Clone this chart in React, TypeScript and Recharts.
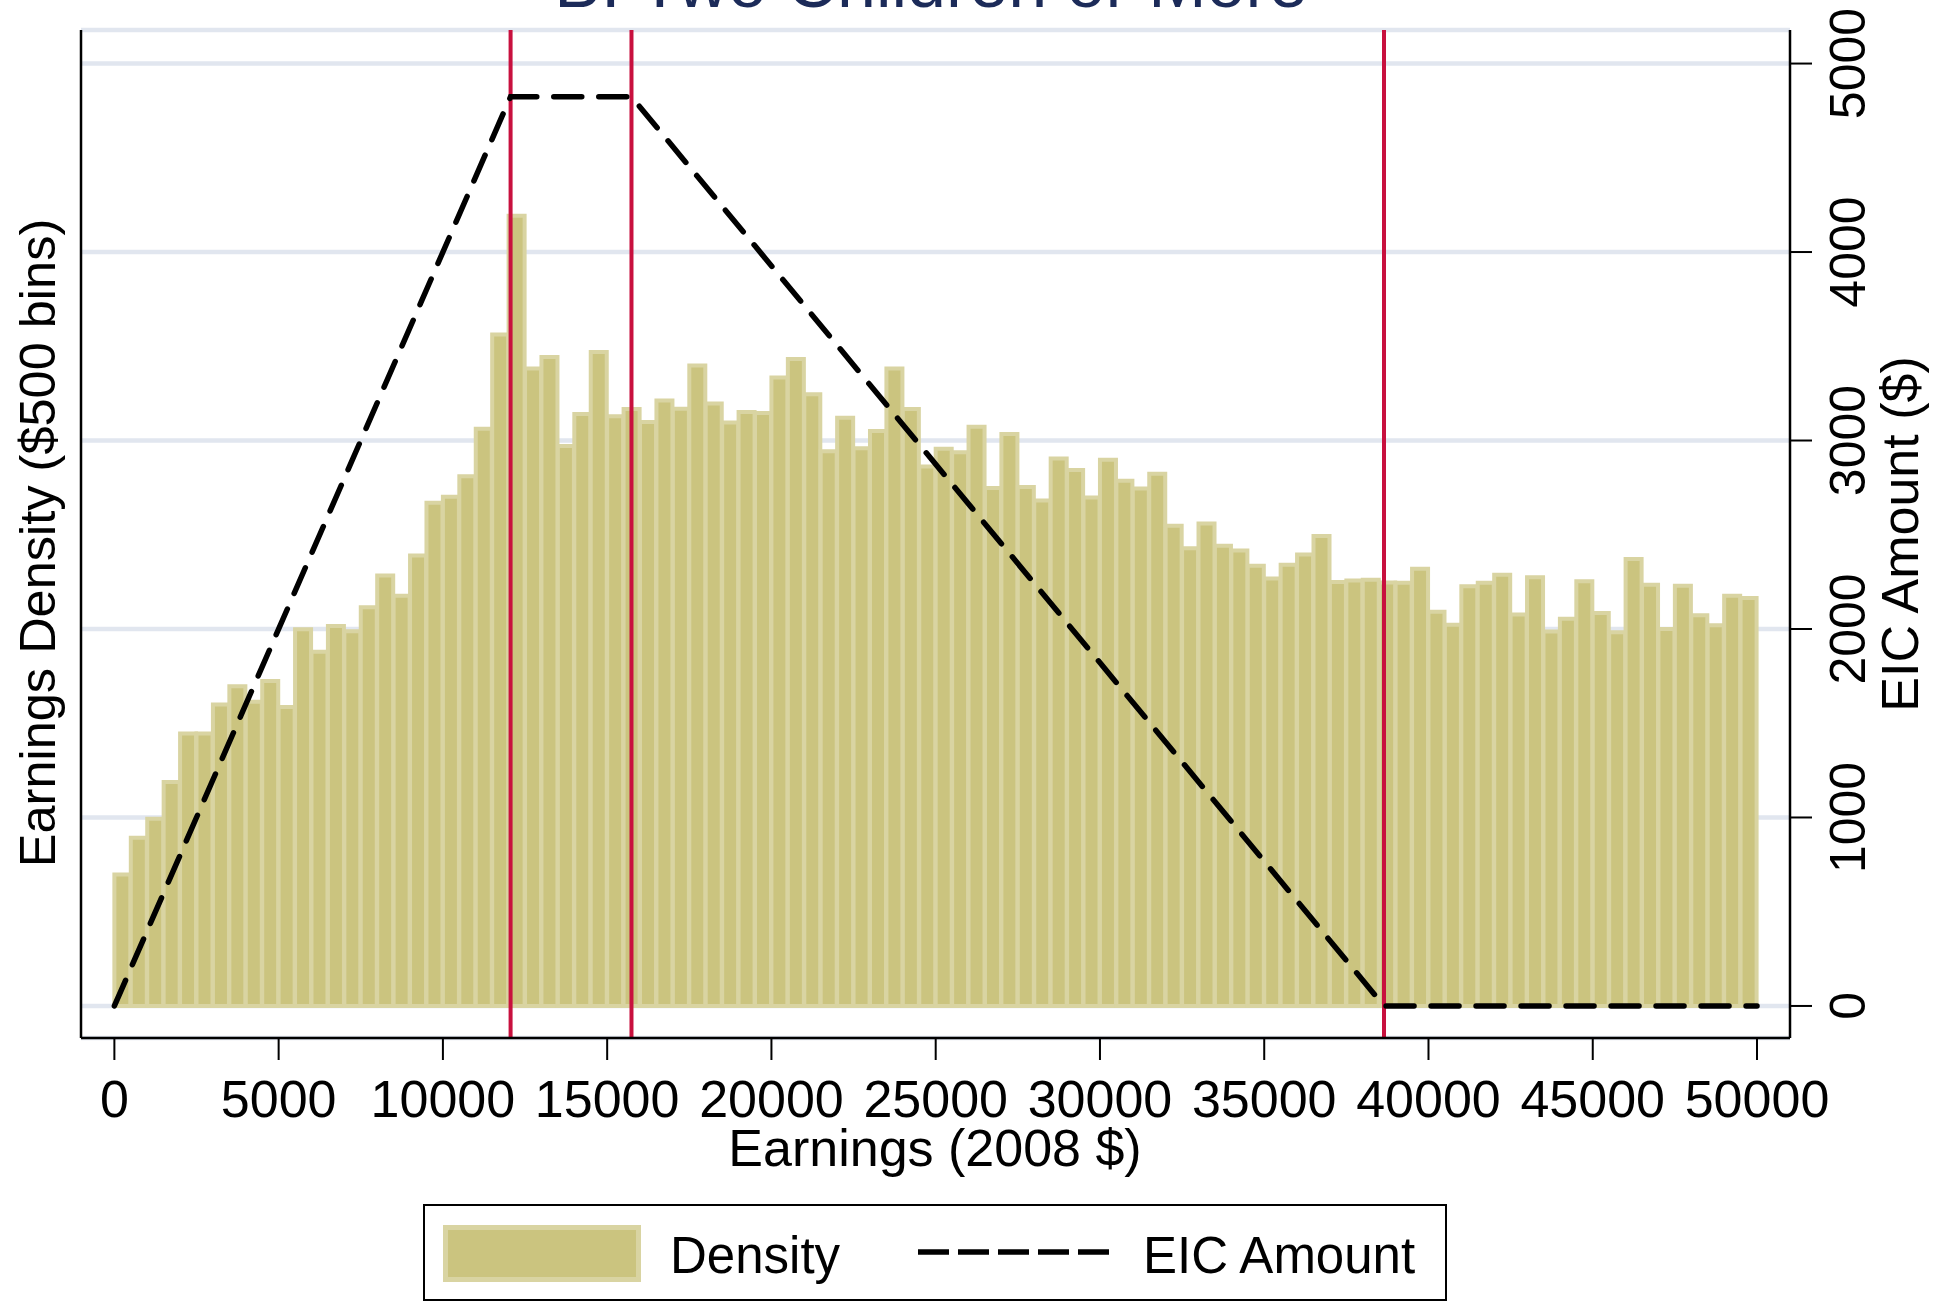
import {
  ComposedChart,
  Bar,
  Line,
  XAxis,
  YAxis,
  CartesianGrid,
  ReferenceLine,
  Legend,
} from "recharts";

const FONT = '"Liberation Sans", Arial, Helvetica, sans-serif';
const BAR_FILL = "#cbc47f";
const BAR_EDGE = "#d9d4a2";
const KINK_RED = "#c8103e";
const TITLE_BLUE = "#1c2b59";

// Earnings density per $500 bin (left axis has no labels; units match the gridlines 0..5)
const density = [
  0.697, 0.892, 0.993, 1.188, 1.446, 1.446, 1.599, 1.696, 1.614, 1.724,
  1.586, 1.998, 1.879, 2.016, 1.988, 2.116, 2.284, 2.177, 2.39, 2.67,
  2.701, 2.811, 3.063, 3.563, 4.193, 3.382, 3.443, 2.971, 3.141, 3.469,
  3.129, 3.167, 3.098, 3.212, 3.169, 3.398, 3.197, 3.096, 3.151, 3.146,
  3.334, 3.433, 3.245, 2.943, 3.121, 2.959, 3.05, 3.382, 3.167, 2.862,
  2.956, 2.938, 3.073, 2.748, 3.035, 2.753, 2.682, 2.905, 2.844, 2.697,
  2.898, 2.786, 2.745, 2.824, 2.548, 2.428, 2.56, 2.442, 2.416, 2.335,
  2.268, 2.341, 2.395, 2.493, 2.249, 2.257, 2.261, 2.247, 2.245, 2.32,
  2.091, 2.022, 2.227, 2.245, 2.288, 2.077, 2.274, 1.987, 2.054, 2.253,
  2.085, 1.983, 2.371, 2.235, 2.0, 2.229, 2.073, 2.02, 2.176, 2.164,
];
const BIN = 500;
const bins = density.map((d, i) => ({ mid: i * BIN + BIN / 2, density: d }));

// 2008 EIC schedule, two children or more
const eicEarnings = [0, 12060, 15740, 38646, 50000];
const eicAmount = [0, 4824, 4824, 0, 0];
const eicSchedule = eicEarnings.map((x, i) => ({ x, eic: eicAmount[i] }));

const kinks = [12060, 15740, 38646];
const xTicks = [0, 5000, 10000, 15000, 20000, 25000, 30000, 35000, 40000, 45000, 50000];
const eicTicks = [0, 1000, 2000, 3000, 4000, 5000];

const X_DOMAIN = [-1016, 51004];
const EIC_DOMAIN = [-170, 5178];
const DENS_DOMAIN = [-0.17, 5.178];

const XTick = ({ x, y, payload }: any) => (
  <text x={x} y={y} dy={57} textAnchor="middle" fontSize={52} fontFamily={FONT} fill="#000">
    {payload.value}
  </text>
);

const EicTick = ({ y, payload }: any) => (
  <text
    x={1865}
    y={y}
    transform={`rotate(-90 1865 ${y})`}
    textAnchor="middle"
    fontSize={50}
    fontFamily={FONT}
    fill="#000"
  >
    {payload.value}
  </text>
);

const renderLegend = (props: any) => {
  const items = props.payload || [];
  const bar = items.find((p: any) => p.dataKey === "density");
  const line = items.find((p: any) => p.dataKey === "eic");
  return (
    <svg width={1024} height={98} style={{ display: "block" }}>
      <rect x={1} y={1} width={1022} height={95} fill="#fff" stroke="#000" strokeWidth={2} />
      <rect x={22.5} y={23.5} width={193} height={52} fill={BAR_FILL} stroke={BAR_EDGE} strokeWidth={5} />
      <text x={247} y={69} fontSize={51} fontFamily={FONT} fill="#000">
        {bar ? bar.value : "Density"}
      </text>
      <line x1={495} x2={691} y1={48} y2={48} stroke="#000" strokeWidth={5.5} strokeDasharray="31 9" />
      <text x={720} y={69} fontSize={51} fontFamily={FONT} fill="#000">
        {line ? line.value : "EIC Amount"}
      </text>
    </svg>
  );
};

export default function App() {
  return (
    <div style={{ position: "absolute", left: 0, top: 0, width: 1950, height: 1302, background: "#fff" }}>
      <ComposedChart
        width={1950}
        height={1302}
        data={bins}
        margin={{ top: 30, right: 0, bottom: 0, left: 0 }}
        barCategoryGap={0}
        barGap={0}
      >
        <CartesianGrid
          yAxisId="eic"
          xAxisId="bins"
          vertical={false}
          stroke="#e1e6ef"
          strokeWidth={4.5}
        />
        <XAxis
          xAxisId="bins"
          dataKey="mid"
          type="number"
          domain={X_DOMAIN}
          allowDataOverflow
          ticks={xTicks}
          interval={0}
          height={264}
          tickSize={22}
          tickMargin={0}
          tick={<XTick />}
          axisLine={{ stroke: "#000", strokeWidth: 2.5 }}
          tickLine={{ stroke: "#000", strokeWidth: 2 }}
        />
        <XAxis xAxisId="eicX" dataKey="x" type="number" domain={X_DOMAIN} allowDataOverflow hide />
        <YAxis
          yAxisId="dens"
          orientation="left"
          type="number"
          domain={DENS_DOMAIN}
          allowDataOverflow
          width={81}
          tick={false}
          tickLine={false}
          axisLine={{ stroke: "#000", strokeWidth: 2.5 }}
          label={() => (
            <text
              x={55}
              y={543}
              transform="rotate(-90 55 543)"
              textAnchor="middle"
              fontSize={50.5}
              fontFamily={FONT}
              fill="#000"
            >
              Earnings Density ($500 bins)
            </text>
          )}
        />
        <YAxis
          yAxisId="eic"
          orientation="right"
          type="number"
          domain={EIC_DOMAIN}
          allowDataOverflow
          ticks={eicTicks}
          interval={0}
          width={160}
          tickSize={22}
          tickMargin={0}
          tick={<EicTick />}
          axisLine={{ stroke: "#000", strokeWidth: 2.5 }}
          tickLine={{ stroke: "#000", strokeWidth: 2 }}
          label={() => (
            <text
              x={1918}
              y={534}
              transform="rotate(-90 1918 534)"
              textAnchor="middle"
              fontSize={52}
              fontFamily={FONT}
              fill="#000"
            >
              EIC Amount ($)
            </text>
          )}
        />
        <Bar
          xAxisId="bins"
          yAxisId="dens"
          dataKey="density"
          name="Density"
          fill={BAR_FILL}
          stroke={BAR_EDGE}
          strokeWidth={4}
          isAnimationActive={false}
        />
        {kinks.map((k) => (
          <ReferenceLine key={k} xAxisId="bins" yAxisId="dens" x={k} stroke={KINK_RED} strokeWidth={4} />
        ))}
        <Line
          xAxisId="eicX"
          yAxisId="eic"
          data={eicSchedule}
          dataKey="eic"
          name="EIC Amount"
          type="linear"
          stroke="#000"
          strokeWidth={5.5}
          strokeDasharray="28 17"
          strokeLinecap="round"
          dot={false}
          activeDot={false}
          isAnimationActive={false}
        />
        <Legend
          layout="horizontal"
          verticalAlign="middle"
          align="center"
          content={renderLegend}
          wrapperStyle={{ left: 423, top: 1204, width: 1024, height: 98 }}
        />
      </ComposedChart>
      <svg
        width={1950}
        height={120}
        style={{ position: "absolute", left: 0, top: 0, pointerEvents: "none" }}
      >
        <text x={931} y={6.5} textAnchor="middle" fontSize={70} fontFamily={FONT} fill={TITLE_BLUE}>
          B. Two Children or More
        </text>
      </svg>
      <svg
        width={1950}
        height={80}
        style={{ position: "absolute", left: 0, top: 1100, pointerEvents: "none" }}
      >
        <text x={935} y={66} textAnchor="middle" fontSize={52} fontFamily={FONT} fill="#000">
          Earnings (2008 $)
        </text>
      </svg>
    </div>
  );
}
